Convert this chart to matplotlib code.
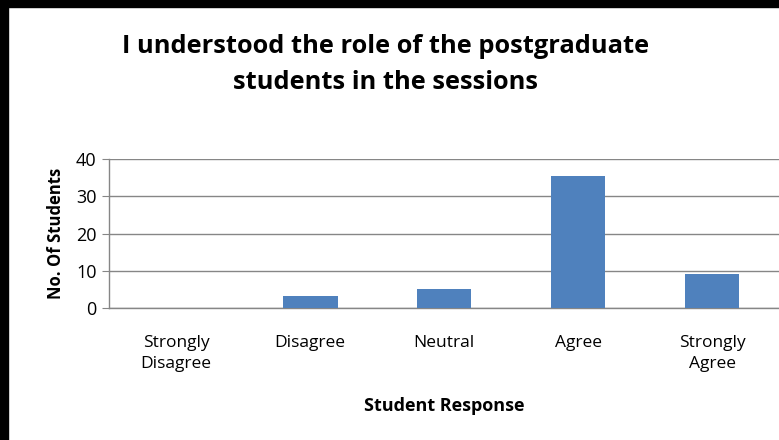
import matplotlib.pyplot as plt
from matplotlib.patches import Rectangle

# --- data ---
categories = ['Strongly\nDisagree', 'Disagree', 'Neutral', 'Agree', 'Strongly\nAgree']
counts = [0, 3.4, 5.3, 35.5, 9.3]
y_ticks = [0, 10, 20, 30, 40]

plt.rcParams['font.family'] = ['Open Sans', 'DejaVu Sans']

fig = plt.figure(figsize=(7.79, 4.4), dpi=100)
ax = fig.add_axes([0.140, 0.299, 0.860, 0.340])

# black frame on top and left, like the screenshot
fig.patches.append(Rectangle((0, 0), 8 / 779, 1, transform=fig.transFigure,
                             color='black', zorder=10))
fig.patches.append(Rectangle((0, 1 - 7 / 440), 1, 7 / 440, transform=fig.transFigure,
                             color='black', zorder=10))

x = range(len(categories))
ax.bar(x, counts, width=0.41, color='#4F81BD', zorder=3)

ax.set_xlim(-0.5, len(categories) - 0.5)
ax.set_ylim(0, 40)
ax.set_yticks(y_ticks)
ax.set_xticks(list(x))
ax.set_xticklabels(categories, fontsize=12.5, linespacing=1.45)
ax.tick_params(axis='x', length=0, pad=19)
ax.tick_params(axis='y', length=5, color='#868686', labelsize=13, pad=4)
ax.yaxis.grid(True, color='#868686', linewidth=1, zorder=0)

for s in ['top', 'right']:
    ax.spines[s].set_visible(False)
for s in ['left', 'bottom']:
    ax.spines[s].set_color('#868686')
    ax.spines[s].set_linewidth(1)

ax.set_ylabel('No. Of Students', fontsize=12, fontweight='bold', labelpad=8)
ax.set_xlabel('Student Response', fontsize=13, fontweight='bold', labelpad=18)

fig.text(0.495, 0.853, 'I understood the role of the postgraduate\nstudents in the sessions',
         ha='center', va='center', fontsize=18.3, fontweight='bold', linespacing=1.55)

fig.savefig('out.png', dpi=100)
